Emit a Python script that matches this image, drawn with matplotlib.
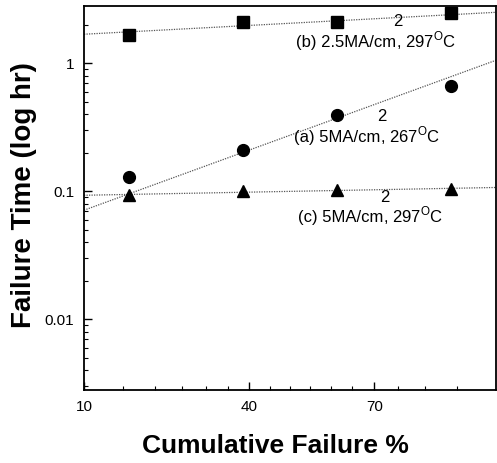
import numpy as np
import matplotlib
matplotlib.use('Agg')
import matplotlib.pyplot as plt
from matplotlib.ticker import FixedLocator, LogLocator, NullFormatter
from statistics import NormalDist

plt.rcParams['font.family'] = ['Liberation Sans', 'DejaVu Sans']
plt.rcParams['mathtext.fontset'] = 'custom'
plt.rcParams['mathtext.rm'] = 'Liberation Sans'

# cumulative failure (median ranks, n=4)
cum_pct = [15.9, 38.6, 61.4, 84.1]

# failure times (hr)
t_a = [0.129, 0.209, 0.392, 0.661]   # 5MA/cm2, 267C
t_b = [1.66, 2.09, 2.09, 2.46]       # 2.5MA/cm2, 297C
t_c = [0.094, 0.101, 0.103, 0.105]   # 5MA/cm2, 297C

# fitted lines, values at 10% and 90%
fit_x = [10, 90]
fit_a = [0.0711, 1.055]
fit_b = [1.685, 2.5]
fit_c = [0.093, 0.107]

x_ticks = [10, 40, 70]
y_ticks = [0.01, 0.1, 1]
y_tick_labels = ['0.01', '0.1', '1']

nd = NormalDist()
_ppf = np.vectorize(nd.inv_cdf, otypes=[float])
_cdf = np.vectorize(nd.cdf, otypes=[float])


def fwd(p):
    p = np.clip(np.asarray(p, dtype=float) / 100.0, 1e-9, 1 - 1e-9)
    return _ppf(p)


def inv(z):
    return _cdf(np.asarray(z, dtype=float)) * 100.0


fig = plt.figure(figsize=(4.97, 4.63), dpi=100)
ax = fig.add_axes([84 / 497, 73 / 463, 412 / 497, 384 / 463])

ax.set_xscale('function', functions=(fwd, inv))
ax.set_yscale('log')

# fit lines
for fy in (fit_a, fit_b, fit_c):
    ax.plot(fit_x, fy, linestyle=(0, (1, 1)), color='#555555', linewidth=0.9)

# data points
ax.plot(cum_pct, t_b, 's', color='black', markersize=8)
ax.plot(cum_pct, t_a, 'o', color='black', markersize=8.5)
ax.plot(cum_pct, t_c, '^', color='black', markersize=9)

ax.set_xlim(10, 90)
ax.set_ylim(0.0028, 2.8)

ax.xaxis.set_major_locator(FixedLocator(x_ticks))
ax.xaxis.set_minor_locator(FixedLocator([15, 20, 25, 30, 35, 45, 50, 55, 60, 65, 75, 80, 85]))
ax.set_xticklabels([str(v) for v in x_ticks])
ax.xaxis.set_minor_formatter(NullFormatter())

ax.yaxis.set_major_locator(FixedLocator(y_ticks))
ax.set_yticklabels(y_tick_labels)
ax.yaxis.set_minor_locator(LogLocator(base=10, subs=np.arange(2, 10)))
ax.yaxis.set_minor_formatter(NullFormatter())

ax.tick_params(which='major', direction='in', length=6, width=1, labelsize=11, pad=7)
ax.tick_params(which='minor', direction='in', length=3, width=0.8)
ax.tick_params(top=False, right=False, which='both')
for s in ax.spines.values():
    s.set_linewidth(1.3)

# axis titles placed in figure pixels
fig.text(275 / 497, 1 - 446 / 463, 'Cumulative Failure %', fontsize=19, fontweight='bold',
         ha='center', va='center')
fig.text(24 / 497, 1 - 195 / 463, 'Failure Time (log hr)', fontsize=20, fontweight='bold',
         ha='center', va='center', rotation=90)

# annotations: (label head, tail, x anchor px, baseline px, "2" bottom px)
notes = [
    ('(b) 2.5MA/cm', ', 297$^{\\rm O}$C', 396, 47, 29),
    ('(a) 5MA/cm', ', 267$^{\\rm O}$C', 380, 142, 124),
    ('(c) 5MA/cm', ', 297$^{\\rm O}$C', 383, 222, 205),
]
for head, tail, xp, yp, y2 in notes:
    fx = (xp - 84) / 412
    fy = (390 - yp) / 384
    fy2 = (390 - y2) / 384
    ax.text(fx, fy, head, transform=ax.transAxes, ha='right', va='baseline', fontsize=12)
    ax.text(fx, fy, tail, transform=ax.transAxes, ha='left', va='baseline', fontsize=12)
    ax.text(fx + 0.004, fy2, '2', transform=ax.transAxes, ha='center', va='bottom', fontsize=12)

fig.savefig('out.png', dpi=100)
